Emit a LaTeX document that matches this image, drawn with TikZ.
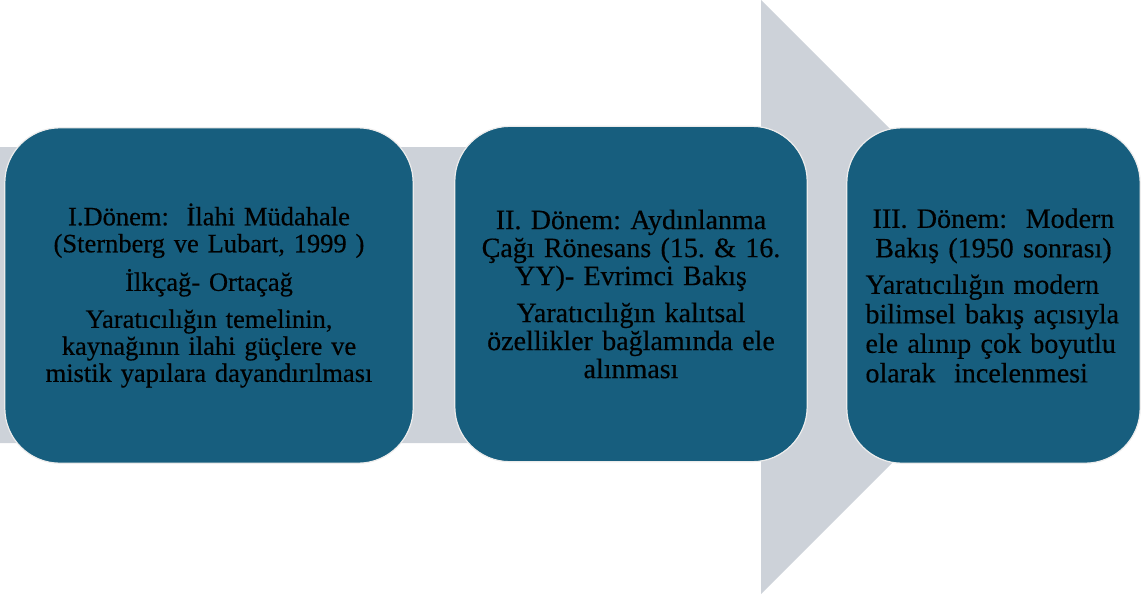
\documentclass[tikz,border=0pt]{standalone}
\usepackage{fontspec}
\setmainfont{Liberation Serif}[FakeBold=0.4]
\usepackage{tikz}
\definecolor{stageblue}{HTML}{175E7E}
\definecolor{arrowgrey}{HTML}{CDD2D9}
\frenchspacing

\begin{document}
\begin{tikzpicture}[x=1pt,y=-1pt,
stage/.style={shape=rectangle,rounded corners=55pt,fill=stageblue,minimum height=335pt,inner sep=0pt}]
\useasboundingbox (0,0) rectangle (1141,595);
% big grey arrow behind the stages
\path [fill=arrowgrey] (0,147) -- (761,147) -- (761,0) -- (1058,297) -- (761,594) -- (761,443) -- (0,443) -- cycle;

\path (209,295.5) node (stage1) [stage,minimum width=408pt,text width=370pt,align=center,font=\fontsize{26.5}{27}\selectfont] {I.Dönem:~~İlahi Müdahale\\
(Sternberg ve Lubart, 1999 )\\[10pt]
İlkçağ- Ortaçağ\\[10pt]
Yaratıcılığın temelinin,\\
kaynağının ilahi güçlere ve\\
mistik yapılara dayandırılması};
\path (631,294) node (stage2) [stage,minimum width=352pt,text width=320pt,align=center,font=\fontsize{28}{28}\selectfont] {II. Dönem: Aydınlanma\\
Çağı Rönesans (15. \& 16.\\
YY)- Evrimci Bakış\\[9pt]
Yaratıcılığın kalıtsal\\
özellikler bağlamında ele\\
alınması};
\path (993.5,295.5) node (stage3) [stage,minimum width=293pt,text width=256pt,align=left,font=\fontsize{28}{29.5}\selectfont] {{\centering III. Dönem:~~Modern\\
Bakış (1950 sonrası)\par}\vspace{7pt}
Yaratıcılığın modern\\
bilimsel bakış açısıyla\\
ele alınıp çok boyutlu\\
olarak~~incelenmesi};
% thin light rims of the stages
\draw [white!85!gray,line width=1.2pt,rounded corners=55pt] (stage1.north west) rectangle (stage1.south east);
\draw [white!85!gray,line width=1.2pt,rounded corners=55pt] (stage2.north west) rectangle (stage2.south east);
\draw [white!85!gray,line width=1.2pt,rounded corners=55pt] (stage3.north west) rectangle (stage3.south east);
\end{tikzpicture}
\end{document}
